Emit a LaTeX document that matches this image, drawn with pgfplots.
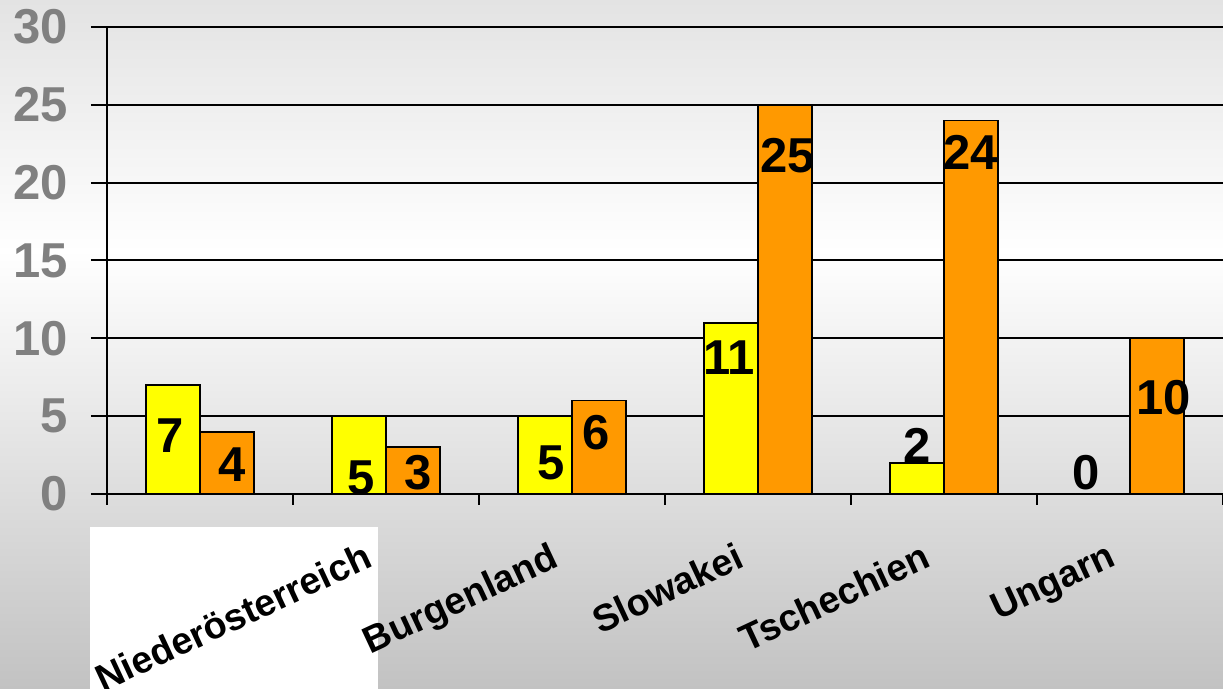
\documentclass[border=0pt]{standalone}
\usepackage{fontspec}
\setmainfont{Liberation Sans}
\usepackage{pgfplots}
\usepackage{pgfplotstable}
\pgfplotsset{compat=1.18}
\definecolor{barY}{HTML}{FFFF00}
\definecolor{barO}{HTML}{FF9900}
\definecolor{tickgray}{HTML}{808080}
\definecolor{bgtop}{HTML}{E3E3E3}
\definecolor{bgbot}{HTML}{C2C2C2}

% dx, dy: label offsets (pt) from the group centre / bar top
\pgfplotstableread{
x y dx dy
0 7 -15.0 -25.2
1 5 -12.5 -30.7
2 5 -10.5 -23.2
3 11 -14.5 -17.4
4 2 -13.5 8.7
5 0 -22.0 10.7
}\yellowdata
\pgfplotstableread{
x y dx dy
0 4 16.0 -16.3
1 3 16.0 -12.6
2 6 12.0 -16.0
3 25 15.0 -25.4
4 24 13.5 -16.0
5 10 17.0 -29.6
}\orangedata

\pgfplotsset{vallabels/.style={
  nodes near coords,
  visualization depends on={\thisrow{dx} \as \dx},
  visualization depends on={\thisrow{dy} \as \dy},
  every node near coord/.append style={font=\bfseries\fontsize{24.5}{26}\selectfont,
    text=black, anchor=center, xshift=\dx pt, yshift=\dy pt},
}}

\begin{document}
\begin{tikzpicture}
\shade[top color=bgtop, bottom color=white] (-53.5pt,121pt) rectangle (558pt,247pt);
\shade[top color=white, bottom color=bgbot] (-53.5pt,-97.5pt) rectangle (558pt,122pt);
\fill[white] (-8.5pt,-97.5pt) rectangle (135.5pt,-16.5pt);
\begin{axis}[at={(0,0)}, anchor=south west, scale only axis,
  width=558pt, height=233.5pt,
  xmin=-0.5, xmax=5.5, ymin=0, ymax=30,
  /pgf/number format/assume math mode=true,
  axis lines=left, axis line style={-, line width=1pt, black},
  tick align=outside,
  major tick length=8pt,
  ytick={0,5,...,30},
  ytick style={black, line width=1pt},
  ymajorgrids, grid style={black, line width=1pt},
  xtick={-0.5,0.5,...,5.5},
  xtick style={black, line width=1pt, /pgfplots/major tick length=5.5pt},
  xticklabels={,Niederösterreich,Burgenland,Slowakei,Tschechien,Ungarn,},
  xticklabel style={font=\bfseries\fontsize{18.8}{20}\selectfont, text=black,
    xshift=36.5pt, yshift=-11pt, rotate=25, anchor=north east},
  yticklabel style={font=\bfseries\fontsize{24.5}{26}\selectfont, text=tickgray, xshift=-8pt},
]
\addplot[ybar, bar width=27pt, bar shift=-13.5pt, fill=barY, draw=black, line width=0.8pt, vallabels]
  table[x=x, y=y] {\yellowdata};
\addplot[ybar, bar width=27pt, bar shift=13.5pt, fill=barO, draw=black, line width=0.8pt, vallabels]
  table[x=x, y=y] {\orangedata};
\end{axis}
\pgfresetboundingbox
\useasboundingbox (-53.5pt,-97.5pt) rectangle (558pt,247pt);
\end{tikzpicture}
\end{document}
